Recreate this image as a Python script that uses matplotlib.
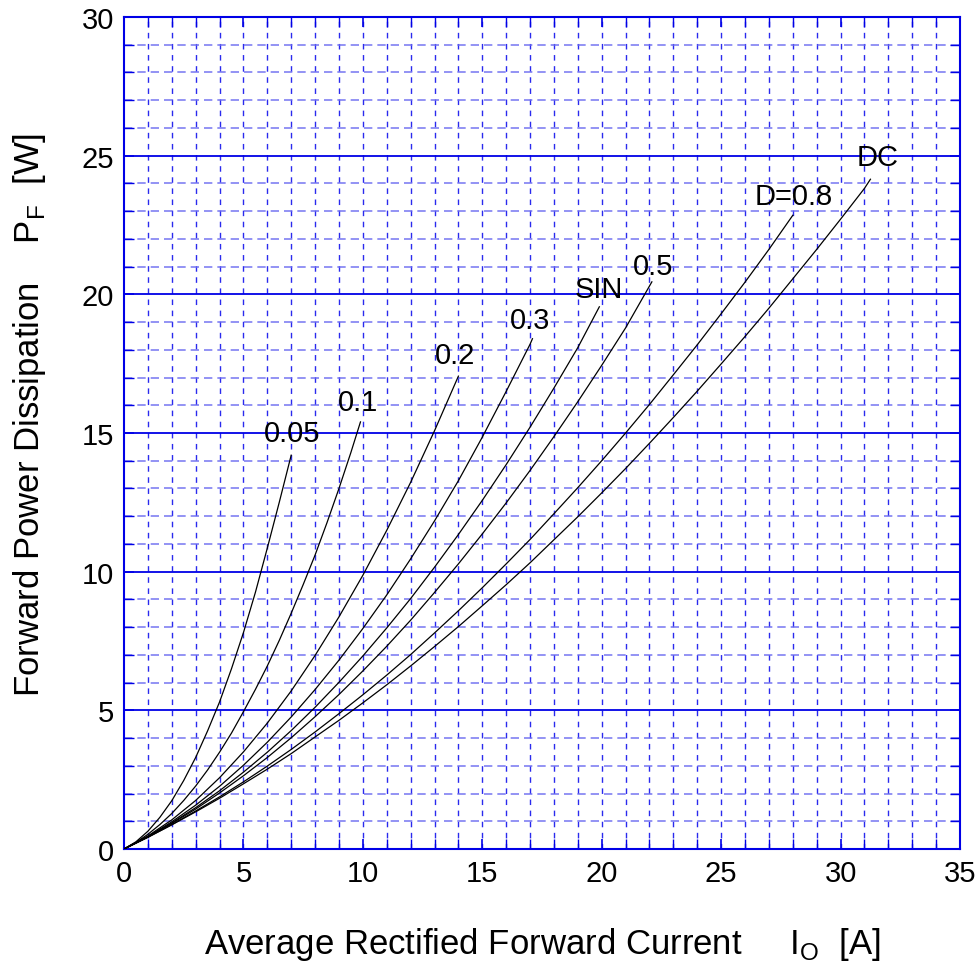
import matplotlib
matplotlib.use("Agg")
import matplotlib.pyplot as plt

plt.rcParams['font.family'] = ['Liberation Sans', 'DejaVu Sans']
plt.rcParams['mathtext.fontset'] = 'custom'
plt.rcParams['mathtext.rm'] = 'Liberation Sans'

# ---- data ----
x_005 = [0, 0.5, 1, 1.5, 2, 2.5, 3, 3.5, 4, 4.5, 5, 5.5, 6, 6.5, 7.0]
y_005 = [0, 0.26, 0.64, 1.14, 1.74, 2.47, 3.3, 4.26, 5.3, 6.5, 7.8, 9.25, 10.85, 12.5, 14.2]

x_01 = [0, 0.5, 1, 1.5, 2, 2.5, 3, 3.5, 4, 4.5, 5, 5.5, 6, 6.5, 7, 7.5, 8, 8.5, 9, 9.5, 9.9]
y_01 = [0, 0.235, 0.53, 0.88, 1.28, 1.75, 2.27, 2.85, 3.49, 4.18, 4.95, 5.75, 6.6,
        7.52, 8.5, 9.53, 10.6, 11.77, 13.0, 14.3, 15.4]

x_02 = [0, 1, 2, 3, 4, 5, 6, 7, 8, 9, 10, 11, 12, 13, 14]
y_02 = [0, 0.47, 1.05, 1.75, 2.57, 3.5, 4.54, 5.7, 6.98, 8.37, 9.87, 11.49, 13.22, 15.08, 17.05]

x_03 = [0, 1, 2, 3, 4, 5, 6, 7, 8, 9, 10, 11, 12, 13, 14, 15, 16, 17, 17.1]
y_03 = [0, 0.45, 0.98, 1.58, 2.26, 3.02, 3.85, 4.76, 5.75, 6.81, 7.95, 9.16, 10.46,
        11.83, 13.28, 14.85, 16.5, 18.2, 18.4]

x_sin = [0, 1, 2, 3, 4, 5, 6, 7, 8, 9, 10, 11, 12, 13, 14, 15, 16, 17, 18, 19, 19.9]
y_sin = [0, 0.44, 0.94, 1.49, 2.1, 2.77, 3.49, 4.27, 5.11, 6.01, 6.96, 7.97, 9.03,
         10.16, 11.34, 12.57, 13.86, 15.21, 16.62, 18.08, 19.55]

x_05 = [0, 1, 2, 3, 4, 5, 6, 7, 8, 9, 10, 11, 12, 13, 14, 15, 16, 17, 18, 19, 20, 21, 22, 22.1]
y_05 = [0, 0.435, 0.92, 1.44, 2.02, 2.64, 3.3, 4.01, 4.77, 5.57, 6.42, 7.31, 8.25, 9.25,
        10.28, 11.36, 12.48, 13.65, 14.87, 16.13, 17.44, 18.79, 20.3, 20.45]

x_08 = [0, 1, 2, 3, 4, 5, 6, 7, 8, 9, 10, 11, 12, 13, 14, 15, 16, 17, 18, 19, 20,
        21, 22, 23, 24, 25, 26, 27, 28]
y_08 = [0, 0.426, 0.88, 1.37, 1.88, 2.42, 2.99, 3.59, 4.22, 4.88, 5.56, 6.27, 7.01,
        7.79, 8.59, 9.42, 10.28, 11.16, 12.09, 13.03, 14.0, 15.0, 16.03, 17.1, 18.18,
        19.3, 20.44, 21.62, 22.85]

x_dc = [0, 1, 2, 3, 4, 5, 6, 7, 8, 9, 10, 11, 12, 13, 14, 15, 16, 17, 18, 19, 20,
        21, 22, 23, 24, 25, 26, 27, 28, 29, 30, 31, 31.25]
y_dc = [0, 0.42, 0.87, 1.34, 1.83, 2.35, 2.88, 3.44, 4.04, 4.64, 5.27, 5.92, 6.6,
        7.3, 8.02, 8.77, 9.53, 10.32, 11.15, 11.98, 12.84, 13.72, 14.63, 15.56, 16.51,
        17.49, 18.48, 19.5, 20.56, 21.62, 22.71, 23.82, 24.15]

curve_labels = ['0.05', '0.1', '0.2', '0.3', 'SIN', '0.5', 'D=0.8', 'DC']
label_x = [7.03, 9.8, 13.86, 17.0, 19.88, 22.15, 28.05, 31.57]
label_y = [15.0, 16.1, 17.8, 19.07, 20.2, 21.02, 23.55, 24.95]

x_ticks = [0, 5, 10, 15, 20, 25, 30, 35]
y_ticks = [0, 5, 10, 15, 20, 25, 30]

xs = [x_005, x_01, x_02, x_03, x_sin, x_05, x_08, x_dc]
ys = [y_005, y_01, y_02, y_03, y_sin, y_05, y_08, y_dc]

# ---- figure ----
fig = plt.figure(figsize=(9.78, 9.70), dpi=100)
ax = fig.add_axes([124/978, 120/970, 836/978, 832/970])

blue = '#0000e6'
ax.set_xlim(0, 35)
ax.set_ylim(0, 30)

# grid
for xv in range(1, 35):
    ax.axvline(xv, color='#2a2aee', lw=1.0, ls=(0, (4, 4)), zorder=1)
for yv in range(1, 30):
    if yv % 5 == 0:
        ax.axhline(yv, color=blue, lw=1.3, zorder=1)
    else:
        ax.axhline(yv, color='#6a6af0', lw=1.2, ls=(0, (5, 3)), alpha=0.85, zorder=1)

for xv, yv in zip(xs, ys):
    ax.plot(xv, yv, color='black', lw=0.9, zorder=3)

for t, lx, ly in zip(curve_labels, label_x, label_y):
    ax.text(lx, ly, t, fontsize=21, ha='center', va='center', zorder=4)

ax.set_xticks(x_ticks)
ax.set_yticks(y_ticks)
ax.set_xticks(range(0, 36), minor=True)
ax.set_yticks(range(0, 31), minor=True)
ax.tick_params(which='both', direction='in', color=blue, top=True, right=True,
               labelsize=21, pad=7)
ax.tick_params(which='major', length=7, width=1.2)
ax.tick_params(which='minor', length=7, width=1.0)
for s in ax.spines.values():
    s.set_color(blue)
    s.set_linewidth(1.5)

fig.text(542/978, 1 - 945/970,
         r'Average Rectified Forward Current     I$_\mathregular{O}$  [A]',
         fontsize=25, ha='center', va='center')
fig.text(30/978, 1 - 415/970,
         r'Forward Power Dissipation    P$_\mathregular{F}$  [W]',
         fontsize=25, ha='center', va='center', rotation=90)

fig.savefig('out.png', dpi=100)
